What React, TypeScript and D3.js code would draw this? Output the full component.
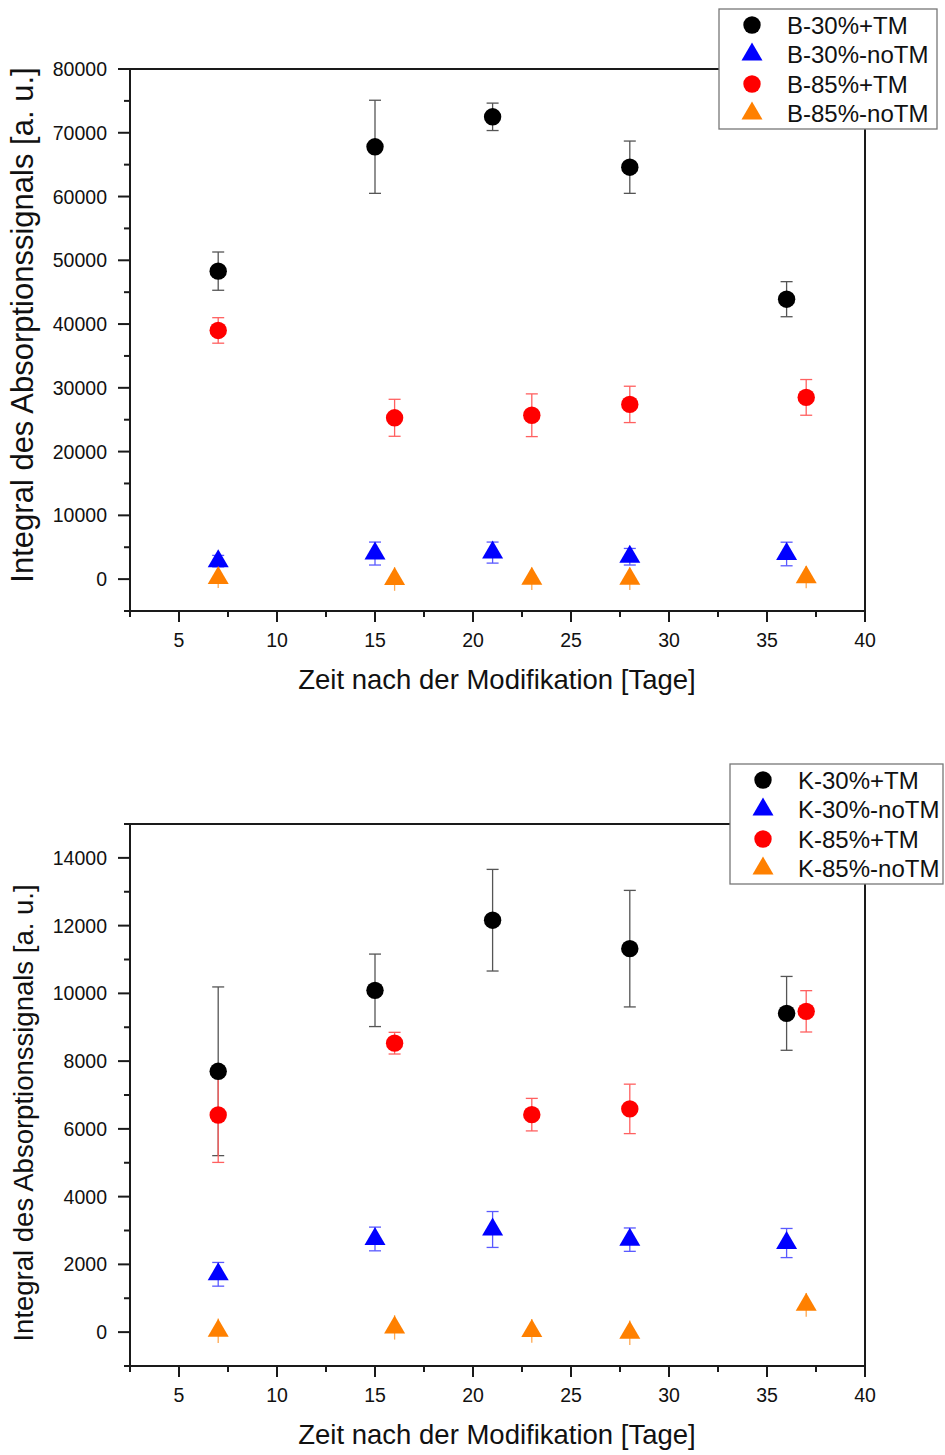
import React from "react";
import * as d3 from "d3";

// ---------- DATA ----------
const xs30 = [7, 15, 21, 28, 36];
const xs85 = [7, 16, 23, 28, 37];

// Top chart (B)
const B30TM = [48300, 67800, 72500, 64600, 43900];
const B30TMerr = [3000, 7300, 2150, 4100, 2750];
const B30noTM = [2820, 4010, 4160, 3510, 3940];
const B30noTMerr = [900, 1800, 1650, 1300, 1850];
const B85TM = [39000, 25300, 25700, 27400, 28500];
const B85TMerr = [2000, 2900, 3350, 2850, 2800];
const B85noTM = [160, 20, 50, 50, 310];
const B85noTMerr = [1570, 1850, 1770, 1770, 1730];

// Bottom chart (K)
const K30TM = [7700, 10090, 12160, 11320, 9410];
const K30TMerr = [2490, 1070, 1500, 1720, 1090];
const K30noTM = [1707, 2750, 3030, 2730, 2630];
const K30noTMerr = [350, 350, 530, 345, 430];
const K85TM = [6410, 8530, 6420, 6590, 9470];
const K85TMerr = [1400, 320, 480, 730, 610];
const K85noTM = [40, 140, 35, -20, 806];
const K85noTMerr = [360, 360, 350, 360, 350];

const xTicks = [5, 10, 15, 20, 25, 30, 35, 40];
const topYTicks = [0, 10000, 20000, 30000, 40000, 50000, 60000, 70000, 80000];
const botYTicks = [0, 2000, 4000, 6000, 8000, 10000, 12000, 14000];

const labelsB = ["B-30%+TM", "B-30%-noTM", "B-85%+TM", "B-85%-noTM"];
const labelsK = ["K-30%+TM", "K-30%-noTM", "K-85%+TM", "K-85%-noTM"];

const xLabel = "Zeit nach der Modifikation [Tage]";
const yLabel = "Integral des Absorptionssignals [a. u.]";

// ---------- STYLE ----------
const FONT = "'Liberation Sans', Arial, sans-serif";
const colors = ["#000000", "#0000ff", "#ff0000", "#ff8000"];
const errColors = ["#555555", "#5a5aff", "#ff6060", "#ffa850"];
const shapes = ["circle", "triangle", "circle", "triangle"];
const caps = [true, true, true, false];
const AXIS = "#1a1a1a";

function triPath(w: number, h: number) {
  return `M0,${-2 * h / 3}L${w / 2},${h / 3}L${-w / 2},${h / 3}Z`;
}

function Marker({ shape, color, x, y }: any) {
  if (shape === "circle") return <circle cx={x} cy={y} r={8.7} fill={color} />;
  return <path d={triPath(21, 18)} transform={`translate(${x},${y})`} fill={color} />;
}

function Panel({ yDomain, yTop, yBottom, yTicks, minorStep, series, labels, legendX, legendY, legendW, yLabelCenter, yLabelSize }: any) {
  const x = d3.scaleLinear().domain([2.5, 40]).range([130, 865]);
  const y = d3.scaleLinear().domain(yDomain).range([yBottom, yTop]);
  const minorY = d3.range(yDomain[0], yDomain[1] + 1, minorStep).filter((v: number) => !yTicks.includes(v));
  const minorX = d3.range(2.5, 40, 5);
  return (
    <g fontFamily={FONT}>
      {/* error bars */}
      {series.map((s: any, si: number) =>
        s.xs.map((xv: number, i: number) => {
          const cx = x(xv);
          const y1 = y(s.vals[i] + s.err[i]);
          const y2 = y(s.vals[i] - s.err[i]);
          return (
            <g key={`e${si}-${i}`} stroke={errColors[si]} strokeWidth={1.3}>
              <line x1={cx} x2={cx} y1={y1} y2={y2} />
              {caps[si] && <line x1={cx - 6} x2={cx + 6} y1={y1} y2={y1} />}
              {caps[si] && <line x1={cx - 6} x2={cx + 6} y1={y2} y2={y2} />}
            </g>
          );
        })
      )}
      {/* markers */}
      {series.map((s: any, si: number) =>
        s.xs.map((xv: number, i: number) => (
          <Marker key={`m${si}-${i}`} shape={shapes[si]} color={colors[si]} x={x(xv)} y={y(s.vals[i])} />
        ))
      )}
      {/* frame */}
      <rect x={130} y={yTop} width={735} height={yBottom - yTop} fill="none" stroke={AXIS} strokeWidth={2} />
      {/* y ticks */}
      {yTicks.map((t: number) => (
        <g key={`yt${t}`}>
          <line x1={118} x2={130} y1={y(t)} y2={y(t)} stroke={AXIS} strokeWidth={2} />
          <text x={107} y={y(t)} dy="0.36em" textAnchor="end" fontSize={19.5} fill="#111">{t}</text>
        </g>
      ))}
      {minorY.map((t: number) => (
        <line key={`ym${t}`} x1={124} x2={130} y1={y(t)} y2={y(t)} stroke={AXIS} strokeWidth={2} />
      ))}
      {/* x ticks */}
      {xTicks.map((t: number) => (
        <g key={`xt${t}`}>
          <line x1={x(t)} x2={x(t)} y1={yBottom} y2={yBottom + 11} stroke={AXIS} strokeWidth={2} />
          <text x={x(t)} y={yBottom + 36} textAnchor="middle" fontSize={19.5} fill="#111">{t}</text>
        </g>
      ))}
      {minorX.map((t: number) => (
        <line key={`xm${t}`} x1={x(t)} x2={x(t)} y1={yBottom} y2={yBottom + 6} stroke={AXIS} strokeWidth={2} />
      ))}
      {/* axis labels */}
      <text x={497} y={yBottom + 78} textAnchor="middle" fontSize={27.5} fill="#111">{xLabel}</text>
      <text transform={`translate(33,${yLabelCenter}) rotate(-90)`} textAnchor="middle" fontSize={yLabelSize} fill="#111">{yLabel}</text>
      {/* legend */}
      <g>
        <rect x={legendX} y={legendY} width={legendW} height={120} fill="#fff" stroke="#777" strokeWidth={1.3} />
        {labels.map((l: string, i: number) => (
          <g key={l}>
            <Marker shape={shapes[i]} color={colors[i]} x={legendX + 33} y={legendY + 16 + i * 29.5} />
            <text x={legendX + 68} y={legendY + 16 + i * 29.5} dy="0.36em" fontSize={24} fill="#111">{l}</text>
          </g>
        ))}
      </g>
    </g>
  );
}

export default function App() {
  const topSeries = [
    { xs: xs30, vals: B30TM, err: B30TMerr },
    { xs: xs30, vals: B30noTM, err: B30noTMerr },
    { xs: xs85, vals: B85TM, err: B85TMerr },
    { xs: xs85, vals: B85noTM, err: B85noTMerr },
  ];
  const botSeries = [
    { xs: xs30, vals: K30TM, err: K30TMerr },
    { xs: xs30, vals: K30noTM, err: K30noTMerr },
    { xs: xs85, vals: K85TM, err: K85TMerr },
    { xs: xs85, vals: K85noTM, err: K85noTMerr },
  ];
  return (
    <svg width={945} height={1455} style={{ position: "absolute", left: 0, top: 0, background: "#fff" }}>
      <rect width={945} height={1455} fill="#fff" />
      <Panel yDomain={[-5000, 80000]} yTop={69} yBottom={611} yTicks={topYTicks} minorStep={5000}
        series={topSeries} labels={labelsB} legendX={719} legendY={9} legendW={218} yLabelCenter={325} yLabelSize={31} />
      <Panel yDomain={[-1000, 15000]} yTop={824} yBottom={1366} yTicks={botYTicks} minorStep={1000}
        series={botSeries} labels={labelsK} legendX={730} legendY={764} legendW={213} yLabelCenter={1113} yLabelSize={27.5} />
    </svg>
  );
}
